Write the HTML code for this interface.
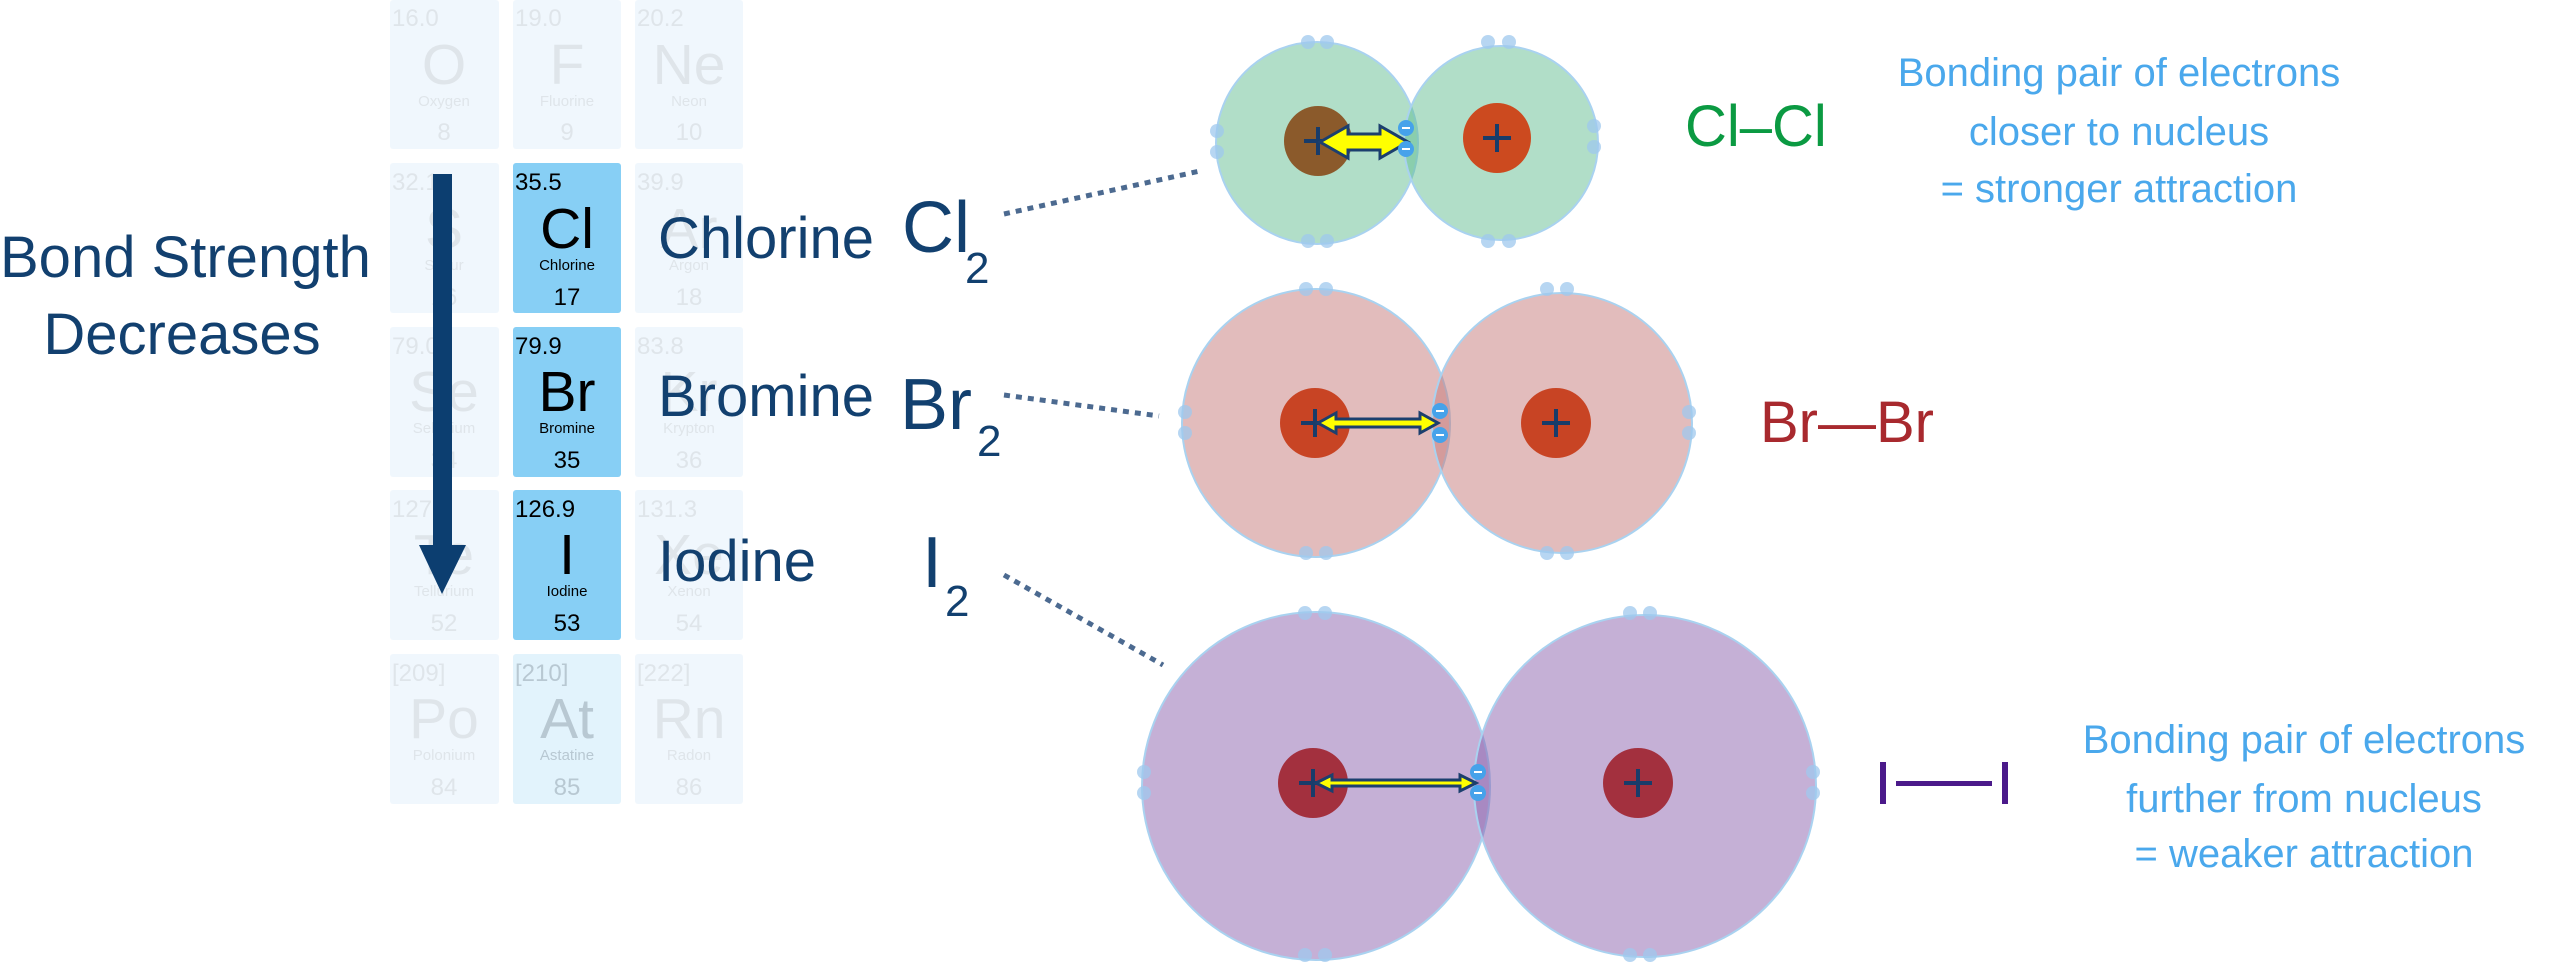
<!DOCTYPE html>
<html><head><meta charset="utf-8"><style>
html,body{margin:0;padding:0;background:#fff;}
svg{display:block;}
text{font-family:"Liberation Sans",sans-serif;}
</style></head><body>
<svg width="2560" height="965" viewBox="0 0 2560 965" xmlns="http://www.w3.org/2000/svg">
<!-- periodic table -->
<g>
 <g fill="#f0f7fd">
  <rect x="390" y="0" width="109" height="149" rx="3"/><rect x="513" y="0" width="108" height="149" rx="3"/><rect x="635" y="0" width="108" height="149" rx="3"/>
  <rect x="390" y="163" width="109" height="150" rx="3"/><rect x="635" y="163" width="108" height="150" rx="3"/>
  <rect x="390" y="327" width="109" height="150" rx="3"/><rect x="635" y="327" width="108" height="150" rx="3"/>
  <rect x="390" y="490" width="109" height="150" rx="3"/><rect x="635" y="490" width="108" height="150" rx="3"/>
  <rect x="390" y="654" width="109" height="150" rx="3"/><rect x="635" y="654" width="108" height="150" rx="3"/>
 </g>
 <rect x="513" y="654" width="108" height="150" rx="3" fill="#e2f3fc"/>
 <g fill="#87cff5"><rect x="513" y="163" width="108" height="150" rx="3"/><rect x="513" y="327" width="108" height="150" rx="3"/><rect x="513" y="490" width="108" height="150" rx="3"/></g>
 <g fill="#dfe5ea" font-size="24">
  <text x="392" y="26">16.0</text><text x="515" y="26">19.0</text><text x="637" y="26">20.2</text>
  <text x="392" y="190">32.1</text><text x="637" y="190">39.9</text>
  <text x="392" y="354">79.0</text><text x="637" y="354">83.8</text>
  <text x="392" y="517">127.6</text><text x="637" y="517">131.3</text>
  <text x="392" y="681">[209]</text><text x="637" y="681">[222]</text>
 </g>
 <text x="515" y="681" font-size="24" fill="#b8c8d2">[210]</text>
 <g fill="#dfe5ea" text-anchor="middle">
  <g font-size="57"><text x="444" y="84">O</text><text x="567" y="84">F</text><text x="689" y="84">Ne</text>
  <text x="444" y="248">S</text><text x="689" y="248">Ar</text><text x="444" y="411">Se</text><text x="689" y="411">Kr</text>
  <text x="444" y="574">Te</text><text x="689" y="574">Xe</text><text x="444" y="738">Po</text><text x="689" y="738">Rn</text></g>
  <g font-size="15"><text x="444" y="106">Oxygen</text><text x="567" y="106">Fluorine</text><text x="689" y="106">Neon</text>
  <text x="444" y="270">Sulfur</text><text x="689" y="270">Argon</text><text x="444" y="433">Selenium</text><text x="689" y="433">Krypton</text>
  <text x="444" y="596">Tellurium</text><text x="689" y="596">Xenon</text><text x="444" y="760">Polonium</text><text x="689" y="760">Radon</text></g>
  <g font-size="24"><text x="444" y="140">8</text><text x="567" y="140">9</text><text x="689" y="140">10</text>
  <text x="444" y="305">16</text><text x="689" y="305">18</text><text x="444" y="468">34</text><text x="689" y="468">36</text>
  <text x="444" y="631">52</text><text x="689" y="631">54</text><text x="444" y="795">84</text><text x="689" y="795">86</text></g>
 </g>
 <g fill="#b8c8d2" text-anchor="middle"><text x="567" y="738" font-size="57">At</text><text x="567" y="760" font-size="15">Astatine</text><text x="567" y="795" font-size="24">85</text></g>
 <g fill="#000">
  <text x="515" y="190" font-size="24">35.5</text><text x="515" y="354" font-size="24">79.9</text><text x="515" y="517" font-size="24">126.9</text>
  <g text-anchor="middle"><text x="567" y="248" font-size="57">Cl</text><text x="567" y="411" font-size="57">Br</text><text x="567" y="574" font-size="57">I</text>
  <text x="567" y="270" font-size="15">Chlorine</text><text x="567" y="433" font-size="15">Bromine</text><text x="567" y="596" font-size="15">Iodine</text>
  <text x="567" y="305" font-size="24">17</text><text x="567" y="468" font-size="24">35</text><text x="567" y="631" font-size="24">53</text></g>
 </g>
</g>
<!-- arrow -->
<rect x="433" y="174" width="19" height="375" fill="#0c3e70"/>
<polygon points="419,545 466,545 442,594" fill="#0c3e70"/>
<g fill="#12406f">
 <text x="0" y="277" font-size="58">Bond Strength</text>
 <text x="182" y="354" font-size="58" text-anchor="middle">Decreases</text>
 <text x="658" y="258" font-size="58">Chlorine</text>
 <text x="902" y="252" font-size="72">Cl</text><text x="965" y="283" font-size="44">2</text>
 <text x="658" y="416" font-size="58">Bromine</text>
 <text x="900" y="429" font-size="72">Br</text><text x="977" y="456" font-size="44">2</text>
 <text x="658" y="581" font-size="58">Iodine</text>
 <text x="922" y="587" font-size="72">I</text><text x="945" y="616" font-size="44">2</text>
</g>
<!-- dotted lines -->
<g stroke="#4c6a90" stroke-width="5" stroke-dasharray="6,6">
 <line x1="1004" y1="214" x2="1200" y2="171"/>
 <line x1="1004" y1="395" x2="1159" y2="416"/>
 <line x1="1004" y1="575" x2="1163" y2="665"/>
</g>
<!-- Cl2 -->
<g stroke="#a9d2f0" stroke-width="2">
 <circle cx="1317" cy="143" r="101" fill="rgb(100,190,145)" fill-opacity="0.5"/>
 <circle cx="1501" cy="143" r="97" fill="rgb(100,190,145)" fill-opacity="0.5"/>
 <circle cx="1316" cy="423" r="134" fill="rgb(197,121,121)" fill-opacity="0.5"/>
 <circle cx="1562" cy="423" r="130" fill="rgb(197,121,121)" fill-opacity="0.5"/>
 <circle cx="1316" cy="786" r="174" fill="rgb(139,97,173)" fill-opacity="0.5"/>
 <circle cx="1645" cy="786" r="171" fill="rgb(139,97,173)" fill-opacity="0.5"/>
</g>
<!-- nuclei -->
<ellipse cx="1318" cy="141" rx="34" ry="35" fill="#8b5a2b"/>
<ellipse cx="1497" cy="138" rx="34" ry="35" fill="#cc4a1f"/>
<ellipse cx="1315" cy="423" rx="35" ry="35" fill="#c84424"/>
<ellipse cx="1556" cy="423" rx="35" ry="35" fill="#c84424"/>
<ellipse cx="1313" cy="783" rx="35" ry="35" fill="#a3303e"/>
<ellipse cx="1638" cy="783" rx="35" ry="35" fill="#a3303e"/>
<g stroke="#183c6a" stroke-width="4">
 <path d="M1304 141h28M1318 127v28"/><path d="M1483 138h28M1497 124v28"/>
 <path d="M1301 423h28M1315 409v28"/><path d="M1542 423h28M1556 409v28"/>
 <path d="M1299 783h28M1313 769v28"/><path d="M1624 783h28M1638 769v28"/>
</g>
<!-- outer electrons -->
<g fill="#9fc8ee" fill-opacity="0.75">
 <circle cx="1308" cy="42" r="7"/><circle cx="1327" cy="42" r="7"/><circle cx="1308" cy="241" r="7"/><circle cx="1327" cy="241" r="7"/>
 <circle cx="1488" cy="42" r="7"/><circle cx="1509" cy="42" r="7"/><circle cx="1488" cy="241" r="7"/><circle cx="1509" cy="241" r="7"/>
 <circle cx="1217" cy="131" r="7"/><circle cx="1217" cy="152" r="7"/><circle cx="1594" cy="126" r="7"/><circle cx="1594" cy="147" r="7"/>
 <circle cx="1306" cy="289" r="7"/><circle cx="1326" cy="289" r="7"/><circle cx="1306" cy="553" r="7"/><circle cx="1326" cy="553" r="7"/>
 <circle cx="1547" cy="289" r="7"/><circle cx="1567" cy="289" r="7"/><circle cx="1547" cy="553" r="7"/><circle cx="1567" cy="553" r="7"/>
 <circle cx="1185" cy="412" r="7"/><circle cx="1185" cy="433" r="7"/><circle cx="1689" cy="412" r="7"/><circle cx="1689" cy="433" r="7"/>
 <circle cx="1305" cy="613" r="7"/><circle cx="1325" cy="613" r="7"/><circle cx="1305" cy="955" r="7"/><circle cx="1325" cy="955" r="7"/>
 <circle cx="1630" cy="613" r="7"/><circle cx="1650" cy="613" r="7"/><circle cx="1630" cy="955" r="7"/><circle cx="1650" cy="955" r="7"/>
 <circle cx="1144" cy="772" r="7"/><circle cx="1144" cy="793" r="7"/><circle cx="1813" cy="772" r="7"/><circle cx="1813" cy="793" r="7"/>
</g>
<!-- yellow arrows -->
<g fill="#ffff00" stroke="#1c3f6e" stroke-width="3" stroke-linejoin="miter">
 <polygon points="1320,142 1348,126 1348,134 1380,134 1380,126 1408,142 1380,158 1380,150 1348,150 1348,158"/>
 <polygon points="1318,423 1336,413 1336,419 1420,419 1420,413 1438,423 1420,433 1420,427 1336,427 1336,433"/>
 <polygon points="1316,783 1332,775 1332,780 1460,780 1460,775 1476,783 1460,791 1460,786 1332,786 1332,791"/>
</g>
<!-- bond electrons -->
<g fill="#46a2ea">
 <circle cx="1406" cy="128" r="8"/><circle cx="1406" cy="149" r="8"/>
 <circle cx="1440" cy="411" r="8"/><circle cx="1440" cy="435" r="8"/>
 <circle cx="1478" cy="772" r="8"/><circle cx="1478" cy="793" r="8"/>
</g>
<g stroke="#fff" stroke-width="2">
 <path d="M1402 128h8M1402 149h8M1436 411h8M1436 435h8M1474 772h8M1474 793h8"/>
</g>
<!-- bond labels -->
<text x="1685" y="146" font-size="58" fill="#0b9a42">Cl‒Cl</text>
<text x="1760" y="442" font-size="58" fill="#a8292e">Br—Br</text>
<g fill="#4b1a8a"><rect x="1880" y="762" width="6" height="42"/><rect x="2002" y="762" width="6" height="42"/><rect x="1896" y="781" width="96" height="5"/></g>
<!-- text blocks -->
<g fill="#4aa8ec" font-size="40" text-anchor="middle">
 <text x="2119" y="86">Bonding pair of electrons</text>
 <text x="2119" y="145">closer to nucleus</text>
 <text x="2119" y="202">= stronger attraction</text>
 <text x="2304" y="753">Bonding pair of electrons</text>
 <text x="2304" y="812">further from nucleus</text>
 <text x="2304" y="867">= weaker attraction</text>
</g>
</svg>
</body></html>
